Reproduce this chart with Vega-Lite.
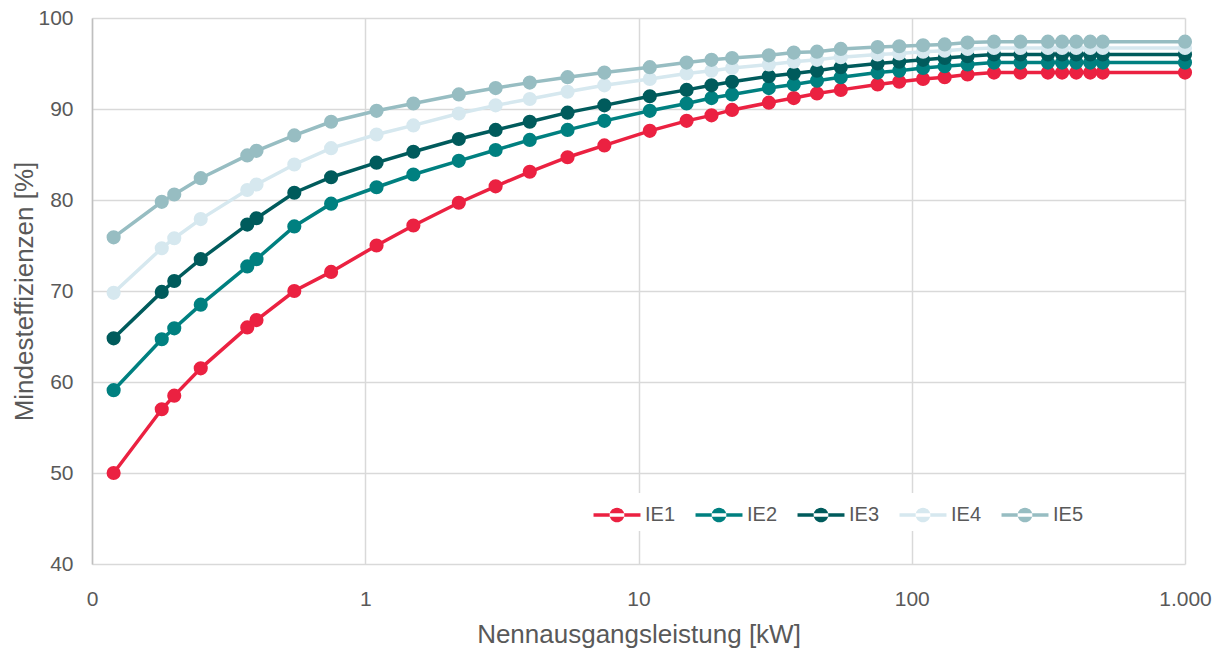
{
  "$schema": "https://vega.github.io/schema/vega-lite/v6.json",
  "width": 1093,
  "height": 546,
  "autosize": {"type": "none"},
  "padding": {"left": 92, "top": 18, "right": 36, "bottom": 86},
  "background": "white",
  "config": {
    "view": {"stroke": null},
    "font": "Liberation Sans",
    "axis": {
      "labelFont": "Liberation Sans",
      "titleFont": "Liberation Sans",
      "labelColor": "#595959",
      "titleColor": "#595959",
      "labelFontSize": 21,
      "titleFontSize": 26,
      "titleFontWeight": "normal",
      "gridColor": "#D9D9D9",
      "gridWidth": 1.5,
      "ticks": false,
      "domainColor": "#BFBFBF",
      "domainWidth": 1.5
    },
    "legend": {
      "labelFont": "Liberation Sans",
      "labelFontSize": 20,
      "labelColor": "#595959"
    }
  },
  "data": {
    "values": [
      {"kW": 0.12, "IE1": 50.0, "IE2": 59.1, "IE3": 64.8, "IE4": 69.8, "IE5": 75.9},
      {"kW": 0.18, "IE1": 57.0, "IE2": 64.7, "IE3": 69.9, "IE4": 74.7, "IE5": 79.8},
      {"kW": 0.2, "IE1": 58.5, "IE2": 65.9, "IE3": 71.1, "IE4": 75.8, "IE5": 80.6},
      {"kW": 0.25, "IE1": 61.5, "IE2": 68.5, "IE3": 73.5, "IE4": 77.9, "IE5": 82.4},
      {"kW": 0.37, "IE1": 66.0, "IE2": 72.7, "IE3": 77.3, "IE4": 81.1, "IE5": 84.9},
      {"kW": 0.4, "IE1": 66.8, "IE2": 73.5, "IE3": 78.0, "IE4": 81.7, "IE5": 85.4},
      {"kW": 0.55, "IE1": 70.0, "IE2": 77.1, "IE3": 80.8, "IE4": 83.9, "IE5": 87.1},
      {"kW": 0.75, "IE1": 72.1, "IE2": 79.6, "IE3": 82.5, "IE4": 85.7, "IE5": 88.6},
      {"kW": 1.1, "IE1": 75.0, "IE2": 81.4, "IE3": 84.1, "IE4": 87.2, "IE5": 89.8},
      {"kW": 1.5, "IE1": 77.2, "IE2": 82.8, "IE3": 85.3, "IE4": 88.2, "IE5": 90.6},
      {"kW": 2.2, "IE1": 79.7, "IE2": 84.3, "IE3": 86.7, "IE4": 89.5, "IE5": 91.6},
      {"kW": 3, "IE1": 81.5, "IE2": 85.5, "IE3": 87.7, "IE4": 90.4, "IE5": 92.3},
      {"kW": 4, "IE1": 83.1, "IE2": 86.6, "IE3": 88.6, "IE4": 91.1, "IE5": 92.9},
      {"kW": 5.5, "IE1": 84.7, "IE2": 87.7, "IE3": 89.6, "IE4": 91.9, "IE5": 93.5},
      {"kW": 7.5, "IE1": 86.0, "IE2": 88.7, "IE3": 90.4, "IE4": 92.6, "IE5": 94.0},
      {"kW": 11, "IE1": 87.6, "IE2": 89.8, "IE3": 91.4, "IE4": 93.3, "IE5": 94.6},
      {"kW": 15, "IE1": 88.7, "IE2": 90.6, "IE3": 92.1, "IE4": 93.9, "IE5": 95.1},
      {"kW": 18.5, "IE1": 89.3, "IE2": 91.2, "IE3": 92.6, "IE4": 94.2, "IE5": 95.4},
      {"kW": 22, "IE1": 89.9, "IE2": 91.6, "IE3": 93.0, "IE4": 94.5, "IE5": 95.6},
      {"kW": 30, "IE1": 90.7, "IE2": 92.3, "IE3": 93.6, "IE4": 94.9, "IE5": 95.9},
      {"kW": 37, "IE1": 91.2, "IE2": 92.7, "IE3": 93.9, "IE4": 95.2, "IE5": 96.2},
      {"kW": 45, "IE1": 91.7, "IE2": 93.1, "IE3": 94.2, "IE4": 95.4, "IE5": 96.3},
      {"kW": 55, "IE1": 92.1, "IE2": 93.5, "IE3": 94.6, "IE4": 95.7, "IE5": 96.6},
      {"kW": 75, "IE1": 92.7, "IE2": 94.0, "IE3": 95.0, "IE4": 96.0, "IE5": 96.8},
      {"kW": 90, "IE1": 93.0, "IE2": 94.2, "IE3": 95.2, "IE4": 96.1, "IE5": 96.9},
      {"kW": 110, "IE1": 93.3, "IE2": 94.5, "IE3": 95.4, "IE4": 96.3, "IE5": 97.0},
      {"kW": 132, "IE1": 93.5, "IE2": 94.7, "IE3": 95.6, "IE4": 96.4, "IE5": 97.1},
      {"kW": 160, "IE1": 93.8, "IE2": 94.9, "IE3": 95.8, "IE4": 96.6, "IE5": 97.3},
      {"kW": 200, "IE1": 94.0, "IE2": 95.1, "IE3": 96.0, "IE4": 96.7, "IE5": 97.4},
      {"kW": 250, "IE1": 94.0, "IE2": 95.1, "IE3": 96.0, "IE4": 96.7, "IE5": 97.4},
      {"kW": 315, "IE1": 94.0, "IE2": 95.1, "IE3": 96.0, "IE4": 96.7, "IE5": 97.4},
      {"kW": 355, "IE1": 94.0, "IE2": 95.1, "IE3": 96.0, "IE4": 96.7, "IE5": 97.4},
      {"kW": 400, "IE1": 94.0, "IE2": 95.1, "IE3": 96.0, "IE4": 96.7, "IE5": 97.4},
      {"kW": 450, "IE1": 94.0, "IE2": 95.1, "IE3": 96.0, "IE4": 96.7, "IE5": 97.4},
      {"kW": 500, "IE1": 94.0, "IE2": 95.1, "IE3": 96.0, "IE4": 96.7, "IE5": 97.4},
      {"kW": 1000, "IE1": 94.0, "IE2": 95.1, "IE3": 96.0, "IE4": 96.7, "IE5": 97.4}
    ]
  },
  "transform": [
    {"fold": ["IE1", "IE2", "IE3", "IE4", "IE5"], "as": ["Klasse", "eff"]}
  ],
  "encoding": {
    "x": {
      "field": "kW",
      "type": "quantitative",
      "scale": {"type": "log", "domain": [0.1, 1000], "nice": false},
      "axis": {
        "title": "Nennausgangsleistung [kW]",
        "values": [0.1, 1, 10, 100, 1000],
        "labelExpr": "datum.value < 0.5 ? '0' : (datum.value == 1000 ? '1.000' : format(datum.value, 'd'))",
        "labelPadding": 24,
        "titlePadding": 12,
        "domain": false,
        "grid": true,
        "labelFlush": false
      }
    },
    "y": {
      "field": "eff",
      "type": "quantitative",
      "scale": {"domain": [40, 100], "nice": false, "zero": false},
      "axis": {
        "title": "Mindesteffizienzen [%]",
        "values": [40, 50, 60, 70, 80, 90, 100],
        "labelPadding": 19,
        "titlePadding": 0,
        "grid": true
      }
    },
    "color": {
      "field": "Klasse",
      "type": "nominal",
      "scale": {
        "domain": ["IE1", "IE2", "IE3", "IE4", "IE5"],
        "range": ["#EB2141", "#008080", "#005B5C", "#D6E8EF", "#97BDC2"]
      },
      "legend": {
        "title": null,
        "orient": "none",
        "legendX": 503,
        "legendY": 475,
        "direction": "horizontal",
        "fillColor": "white",
        "padding": 6,
        "symbolType": "M-1.5,-0.11H1.5V0.11H-1.5Z M-0.47,0A0.47,0.47 0 1,0 0.47,0A0.47,0.47 0 1,0 -0.47,0Z",
        "symbolSize": 980,
        "symbolStrokeWidth": 0,
        "symbolOpacity": 1,
        "columnPadding": 19,
        "labelOffset": 12
      }
    }
  },
  "layer": [
    {"mark": {"type": "line", "strokeWidth": 3.5}},
    {"mark": {"type": "point", "filled": true, "size": 200, "opacity": 1}}
  ]
}
